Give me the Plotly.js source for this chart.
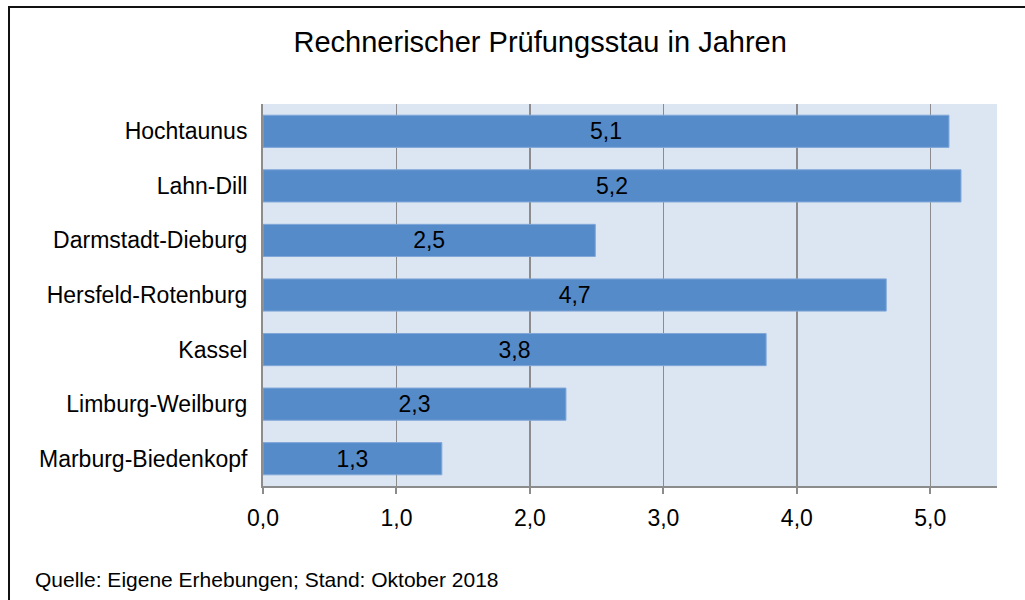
<!DOCTYPE html>
<html>
<head>
<meta charset="utf-8">
<script src="https://cdn.plot.ly/plotly-3.0.1.min.js"></script>
<style>
html,body{margin:0;padding:0;background:#fff;overflow:hidden;}
#frame{position:absolute;left:8px;top:6px;width:1100px;height:700px;border-left:2px solid #111;border-top:2px solid #111;pointer-events:none;z-index:5;}
#chart{position:absolute;left:0;top:0;width:1025px;height:600px;}
</style>
</head>
<body>
<div id="chart"></div>
<div id="frame"></div>
<script>
const regions = ["Hochtaunus","Lahn-Dill","Darmstadt-Dieburg","Hersfeld-Rotenburg","Kassel","Limburg-Weilburg","Marburg-Biedenkopf"];
const years = [5.14, 5.23, 2.49, 4.67, 3.77, 2.27, 1.34];
const xTicks = [0,1,2,3,4,5];
const chartTitle = "Rechnerischer Prüfungsstau in Jahren";
const sourceNote = "Quelle: Eigene Erhebungen; Stand: Oktober 2018";

const FONT = "Liberation Sans, Arial, sans-serif";

const trace = {
  type: "bar",
  orientation: "h",
  y: regions,
  x: years,
  marker: {color: "#568bca", line: {color: "#80a7d8", width: 1}},
  texttemplate: "%{x:.1f}",
  textposition: "inside",
  insidetextanchor: "middle",
  textangle: 0,
  textfont: {family: FONT, size: 23, color: "#000"},
  hoverinfo: "none"
};

const layout = {
  width: 1025, height: 600,
  margin: {l: 263, r: 28, t: 104, b: 114},
  paper_bgcolor: "#fff",
  plot_bgcolor: "#dce6f2",
  separators: ",.",
  font: {family: FONT, color: "#000"},
  title: {text: chartTitle, font: {family: FONT, size: 29, color: "#000"}, x: 0.527, xanchor: "center", y: 0.93, yanchor: "middle"},
  bargap: 0.41,
  showlegend: false,
  xaxis: {
    range: [0, 5.5],
    tickvals: xTicks,
    tickformat: ".1f",
    showgrid: true, gridcolor: "#8c8c8c", gridwidth: 1.5,
    showline: true, linecolor: "#8c8c8c", linewidth: 2,
    ticks: "outside", ticklen: 6, tickwidth: 2, tickcolor: "#8c8c8c",
    ticklabelstandoff: 4,
    tickfont: {family: FONT, size: 23, color: "#000"},
    zeroline: false,
    fixedrange: true
  },
  yaxis: {
    autorange: "reversed",
    showline: true, linecolor: "#8c8c8c", linewidth: 2,
    ticks: "", ticklabelstandoff: 9,
    tickfont: {family: FONT, size: 23, color: "#000"},
    showgrid: false,
    fixedrange: true
  },
  annotations: [{
    text: sourceNote, xref: "paper", yref: "paper",
    x: -0.3134, y: -0.246, xanchor: "left", yanchor: "middle",
    showarrow: false, font: {family: FONT, size: 21, color: "#000"}
  }]
};

Plotly.newPlot("chart", [trace], layout, {displayModeBar: false, staticPlot: true});
</script>
</body>
</html>
